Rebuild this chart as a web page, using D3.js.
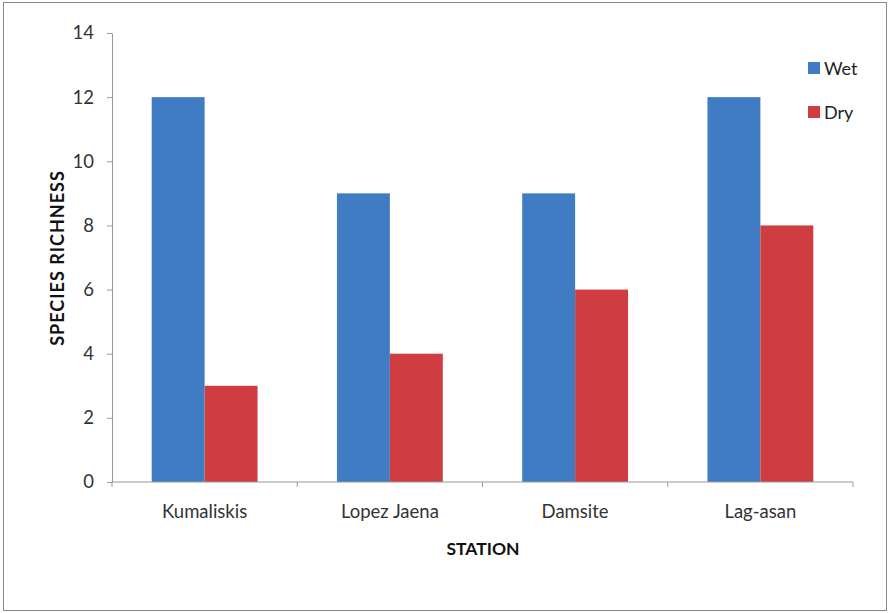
<!DOCTYPE html>
<html>
<head>
<meta charset="utf-8">
<script src="https://cdn.jsdelivr.net/npm/d3@7"></script>
<style>
  html, body { margin: 0; padding: 0; background: #fff; }
  svg { display: block; font-family: Lato, "Open Sans", sans-serif; }
</style>
</head>
<body>
<svg id="chart" width="890" height="613"></svg>
<script>
// Species richness per station, wet vs dry season
const stations = ["Kumaliskis", "Lopez Jaena", "Damsite", "Lag-asan"];
const seasons = ["Wet", "Dry"];
const wetValues = [12, 9, 9, 12];
const dryValues = [3, 4, 6, 8];
const yTicks = [0, 2, 4, 6, 8, 10, 12, 14];
const seasonColors = ["#3f7cc3", "#cf3d40"];

const svg = d3.select("#chart");
const W = 890, H = 613;
const margin = { left: 112, right: 37, top: 33, bottom: 131 };
const plotW = W - margin.left - margin.right;
const plotH = H - margin.top - margin.bottom;

// outer frame
svg.append("rect")
  .attr("x", 3.5).attr("y", 2.5)
  .attr("width", 883).attr("height", 608)
  .attr("fill", "#fff").attr("stroke", "#8a8a8a").attr("stroke-width", 1);

const g = svg.append("g").attr("transform", `translate(${margin.left},${margin.top})`);

const x = d3.scaleBand().domain(stations).range([0, plotW]).padding(0);
// 150% gap width: two bars of width w with 0.75w of space on each side
const sidePad = x.bandwidth() * 0.75 / 3.5;
const x1 = d3.scaleBand().domain(seasons).range([sidePad, x.bandwidth() - sidePad]).padding(0);
const y = d3.scaleLinear().domain([0, 14]).range([plotH, 0]);

const data = stations.map((s, i) => ({ station: s, values: [wetValues[i], dryValues[i]] }));

// bars
g.selectAll("g.group").data(data).join("g")
  .attr("class", "group")
  .attr("transform", d => `translate(${x(d.station)},0)`)
  .selectAll("rect").data(d => d.values.map((v, j) => ({ season: seasons[j], value: v, j })))
  .join("rect")
  .attr("x", d => x1(d.season))
  .attr("width", x1.bandwidth())
  .attr("y", d => y(d.value))
  .attr("height", d => plotH - y(d.value))
  .attr("fill", d => seasonColors[d.j]);

// y axis
const yAxis = g.append("g")
  .call(d3.axisLeft(y).tickValues(yTicks).tickSize(5).tickPadding(13).tickSizeOuter(0));
yAxis.select(".domain").attr("stroke", "#9a9a9a");
yAxis.selectAll(".tick line").attr("stroke", "#9a9a9a");
yAxis.selectAll(".tick text").attr("font-size", 18.5).attr("fill", "#333").attr("font-family", "Lato, sans-serif");

// x axis with ticks at category boundaries
const xAxisG = g.append("g").attr("transform", `translate(0,${plotH})`);
xAxisG.append("line").attr("x1", 0).attr("x2", plotW).attr("stroke", "#9a9a9a");
const boundaries = d3.range(stations.length + 1).map(i => i * x.step());
xAxisG.selectAll("line.tk").data(boundaries).join("line")
  .attr("class", "tk")
  .attr("x1", d => d).attr("x2", d => d).attr("y1", 0).attr("y2", 5)
  .attr("stroke", "#9a9a9a");
xAxisG.selectAll("text").data(stations).join("text")
  .attr("x", d => x(d) + x.bandwidth() / 2)
  .attr("y", 36)
  .attr("text-anchor", "middle")
  .attr("font-size", 18.5)
  .attr("fill", "#333")
  .text(d => d);

// axis titles
svg.append("text")
  .attr("x", 483).attr("y", 555)
  .attr("text-anchor", "middle")
  .attr("font-size", 17.5).attr("font-weight", "bold").attr("fill", "#111")
  .text("STATION");
svg.append("text")
  .attr("transform", "translate(64,258) rotate(-90)")
  .attr("text-anchor", "middle")
  .attr("font-size", 18).attr("font-weight", "bold").attr("fill", "#111")
  .attr("letter-spacing", 1)
  .text("SPECIES RICHNESS");

// legend
const legend = svg.append("g").attr("transform", "translate(808,62)");
seasons.forEach((s, i) => {
  const row = legend.append("g").attr("transform", `translate(0,${i * 44})`);
  row.append("rect").attr("width", 12).attr("height", 12).attr("fill", seasonColors[i]);
  row.append("text").attr("x", 16).attr("y", 13).attr("font-size", 18).attr("fill", "#222").text(s);
});
</script>
</body>
</html>
